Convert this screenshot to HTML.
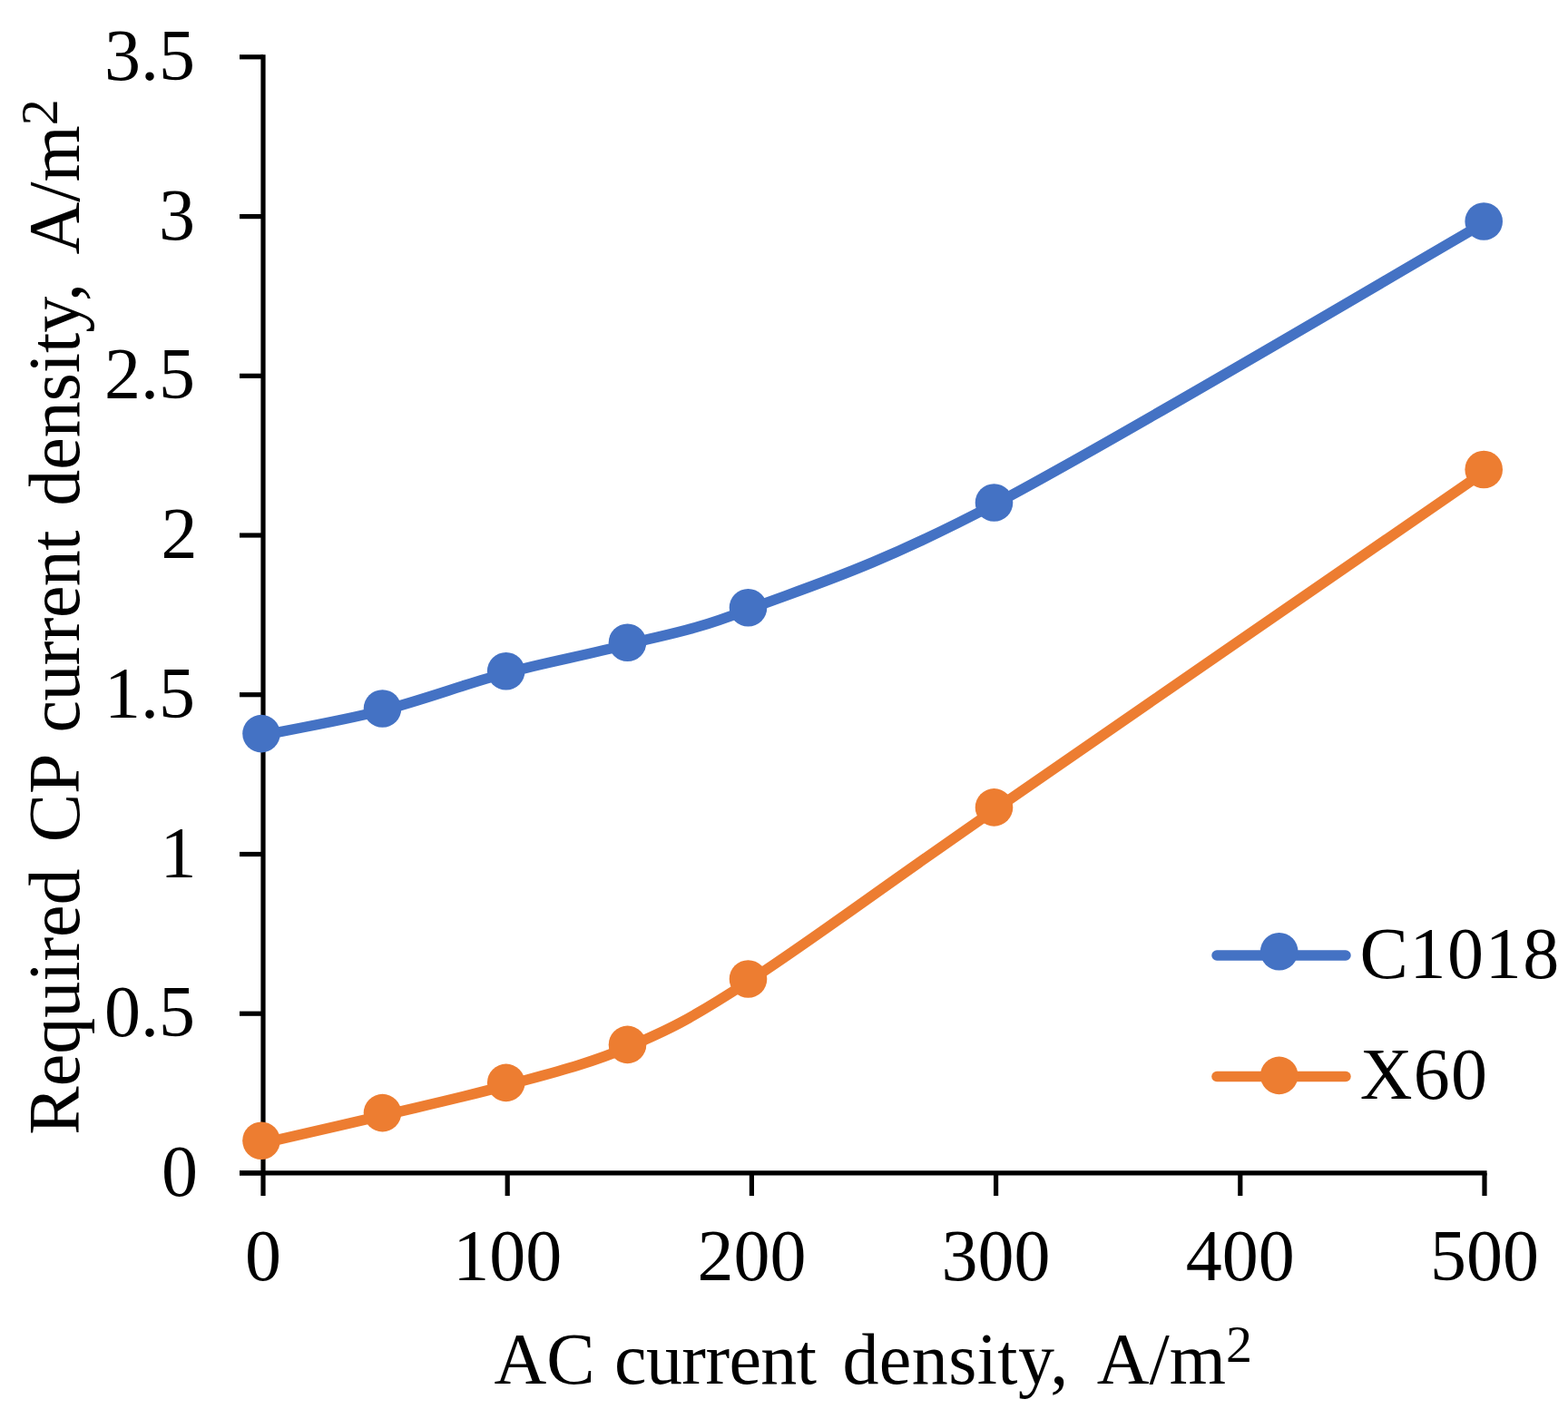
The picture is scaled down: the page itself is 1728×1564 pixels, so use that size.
<!DOCTYPE html>
<html><head><meta charset="utf-8"><style>
html,body{margin:0;padding:0;background:#fff;}
svg{display:block;}
text{font-family:"Liberation Serif","Times New Roman",serif;font-size:80px;fill:#000;}
</style></head><body>
<svg width="1728" height="1564" viewBox="0 0 1728 1564">
<rect width="1728" height="1564" fill="#fff"/>
<g stroke="#000" stroke-width="5.2" stroke-linecap="butt"><line x1="290.0" y1="60.3" x2="290.0" y2="1292.9"/><line x1="264" y1="1292.9" x2="1638.6" y2="1292.9"/><line x1="264" y1="1292.9" x2="290.0" y2="1292.9"/><line x1="264" y1="1117.2" x2="290.0" y2="1117.2"/><line x1="264" y1="941.5" x2="290.0" y2="941.5"/><line x1="264" y1="765.7" x2="290.0" y2="765.7"/><line x1="264" y1="590.0" x2="290.0" y2="590.0"/><line x1="264" y1="414.3" x2="290.0" y2="414.3"/><line x1="264" y1="238.6" x2="290.0" y2="238.6"/><line x1="264" y1="62.8" x2="290.0" y2="62.8"/><line x1="290.0" y1="1292.9" x2="290.0" y2="1318"/><line x1="559.2" y1="1292.9" x2="559.2" y2="1318"/><line x1="828.4" y1="1292.9" x2="828.4" y2="1318"/><line x1="1097.6" y1="1292.9" x2="1097.6" y2="1318"/><line x1="1366.8" y1="1292.9" x2="1366.8" y2="1318"/><line x1="1636.0" y1="1292.9" x2="1636.0" y2="1318"/></g>
<g text-anchor="end"><text x="218.0" y="1317.9">0</text><text x="215.0" y="1142.2">0.5</text><text x="216.5" y="966.5">1</text><text x="215.0" y="790.7">1.5</text><text x="217.5" y="615.0">2</text><text x="215.0" y="439.3">2.5</text><text x="215.0" y="263.6">3</text><text x="215.0" y="87.8">3.5</text></g>
<text x="290.0" y="1411" text-anchor="middle">0</text><text x="559.2" y="1411" text-anchor="middle">100</text><text x="828.4" y="1411" text-anchor="middle">200</text><text x="1097.6" y="1411" text-anchor="middle">300</text><text x="1366.8" y="1411" text-anchor="middle">400</text><text x="1636.0" y="1411" text-anchor="middle">500</text>
<path d="M288.0,810.6 C310.2,806.0 376.6,794.5 421.5,783.0 C466.4,771.5 512.7,753.8 557.7,741.7 C602.7,729.6 647.0,721.9 691.5,710.2 C736.0,698.6 757.2,697.5 824.5,671.8 C891.8,646.1 960.4,627.0 1095.5,556.0 C1230.6,485.0 1545.2,297.7 1635.2,246.0" fill="none" stroke="#4472C4" stroke-width="11.5" stroke-linejoin="round" stroke-linecap="round"/><circle cx="288.0" cy="808.6" r="20.8" fill="#4472C4"/><circle cx="421.5" cy="781.0" r="20.8" fill="#4472C4"/><circle cx="557.7" cy="739.7" r="20.8" fill="#4472C4"/><circle cx="691.5" cy="708.2" r="20.8" fill="#4472C4"/><circle cx="824.5" cy="669.8" r="20.8" fill="#4472C4"/><circle cx="1095.5" cy="554.0" r="20.8" fill="#4472C4"/><circle cx="1635.2" cy="244.0" r="20.8" fill="#4472C4"/><path d="M288.0,1260.3 C310.2,1255.2 376.6,1240.2 421.5,1229.6 C466.4,1218.9 512.7,1208.9 557.7,1196.4 C602.7,1183.9 647.0,1173.5 691.5,1154.4 C736.0,1135.3 757.2,1125.6 824.5,1082.0 C891.8,1038.4 960.4,986.5 1095.5,892.9 C1230.6,799.3 1545.2,582.6 1635.2,520.5" fill="none" stroke="#ED7D31" stroke-width="11.5" stroke-linejoin="round" stroke-linecap="round"/><circle cx="288.0" cy="1257.3" r="20.8" fill="#ED7D31"/><circle cx="421.5" cy="1226.6" r="20.8" fill="#ED7D31"/><circle cx="557.7" cy="1193.4" r="20.8" fill="#ED7D31"/><circle cx="691.5" cy="1151.4" r="20.8" fill="#ED7D31"/><circle cx="824.5" cy="1079.0" r="20.8" fill="#ED7D31"/><circle cx="1095.5" cy="889.9" r="20.8" fill="#ED7D31"/><circle cx="1635.2" cy="517.5" r="20.8" fill="#ED7D31"/>
<line x1="1341" y1="1053" x2="1483" y2="1053" stroke="#4472C4" stroke-width="11.5" stroke-linecap="round"/><circle cx="1409.7" cy="1048.8" r="20.8" fill="#4472C4"/><line x1="1341" y1="1186.5" x2="1483" y2="1186.5" stroke="#ED7D31" stroke-width="11.5" stroke-linecap="round"/><circle cx="1409.7" cy="1185.4" r="20.8" fill="#ED7D31"/><text x="1498.5" y="1078" letter-spacing="1.6">C1018</text><text x="1498.8" y="1211.3" letter-spacing="1.2">X60</text>
<text x="546" y="1525"><tspan dx="-1.5">AC</tspan><tspan dx="2" letter-spacing="-0.6"> current</tspan><tspan dx="8.7" letter-spacing="0.4"> density,</tspan><tspan dx="15.6"> A/m</tspan><tspan font-size="58" dy="-24">2</tspan></text>
<text transform="translate(87,1248.3) rotate(-90)"><tspan dx="-2.4">Required</tspan><tspan dx="9.1"> CP</tspan><tspan dx="3.6" letter-spacing="-0.6"> current</tspan><tspan dx="7.3"> density,</tspan><tspan dx="15.9"> A/m</tspan><tspan font-size="58" dy="-24">2</tspan></text>
</svg>
</body></html>
